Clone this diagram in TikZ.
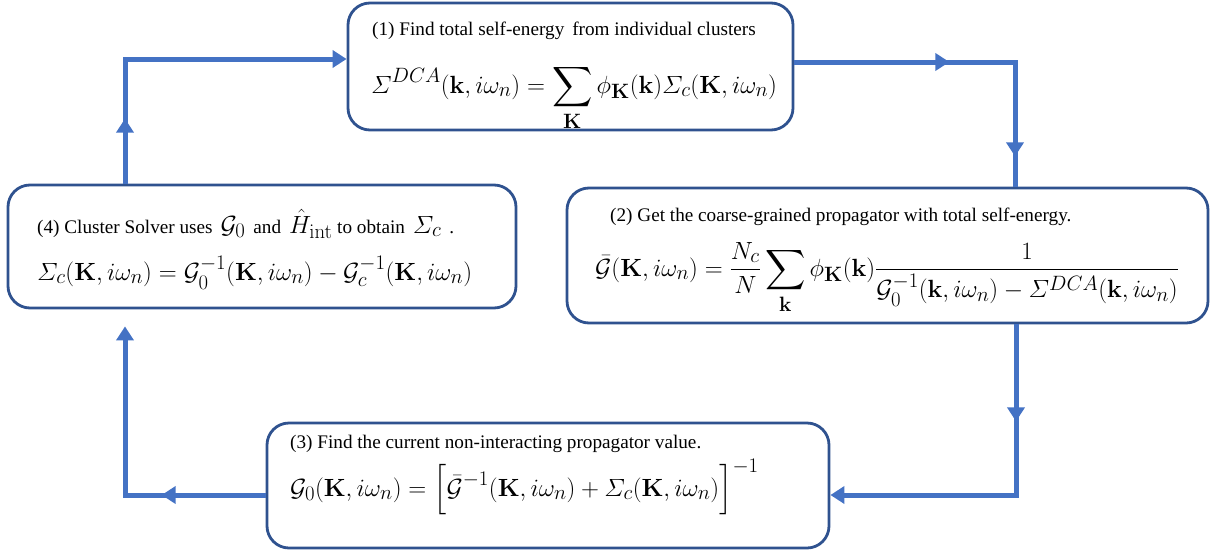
\documentclass[tikz,border=0pt]{standalone}
\usepackage{amsmath,amssymb}
\usepackage[no-math]{fontspec}
\setmainfont{Liberation Serif}
\usetikzlibrary{arrows.meta,decorations.markings}
\definecolor{flowblue}{HTML}{4472C4}
\definecolor{boxblue}{HTML}{2F528F}
\newcommand{\eqsize}{\fontsize{28}{32}\selectfont}
\tikzset{
  stepbox/.style={draw=boxblue, line width=2.8pt, rounded corners=22pt, inner sep=0pt},
  titletext/.style={anchor=base west, inner sep=0pt, font=\fontsize{19.2}{22}\selectfont},
  eqtext/.style={anchor=base west, inner sep=0pt, font=\eqsize},
  flowline/.style={draw=flowblue, line width=5pt},
  endarrow/.style={-{Triangle[width=17pt,length=14pt]}},
  midarr/.style={postaction={decorate}, decoration={markings,
     mark=at position #1 with {\arrow[flowblue]{Triangle[width=17pt,length=14pt]}}}},
  midarrtwo/.style 2 args={postaction={decorate}, decoration={markings,
     mark=at position #1 with {\arrow[flowblue]{Triangle[width=17pt,length=14pt]}},
     mark=at position #2 with {\arrow[flowblue]{Triangle[width=17pt,length=14pt]}}}}
}
\begin{document}
\begin{tikzpicture}[x=1pt,y=-1pt]
\useasboundingbox (0,0) rectangle (1212,552);
% boxes
\node[stepbox, minimum width=445pt, minimum height=127pt] (b1) at (570.5,66.5) {};
\node[stepbox, minimum width=641pt, minimum height=135pt] (b2) at (887.5,255.5) {};
\node[stepbox, minimum width=562pt, minimum height=125pt] (b3) at (548,485.5) {};
\node[stepbox, minimum width=508pt, minimum height=123pt] (b4) at (262,246.5) {};
% texts
\node[titletext] (t1) at (372,35) {(1) Find total self-energy\, from individual clusters};
\node[eqtext] (e1) at (371,93) {$\displaystyle \varSigma^{DCA}(\mathbf{k},i\omega_n)=\sum_{\mathbf{K}}\phi_{\mathbf{K}}(\mathbf{k})\varSigma_c(\mathbf{K},i\omega_n)$};
\node[titletext] (t2) at (610,221) {(2) Get the coarse-grained propagator with total self-energy.};
\node[eqtext] (e2) at (595,276) {$\displaystyle \bar{\mathcal{G}}(\mathbf{K},i\omega_n)=\frac{N_c}{N}\sum_{\mathbf{k}}\phi_{\mathbf{K}}(\mathbf{k})\frac{1}{\mathcal{G}_0^{-1}(\mathbf{k},i\omega_n)-\varSigma^{DCA}(\mathbf{k},i\omega_n)}$};
\node[titletext] (t3) at (290,448) {(3) Find the current non-interacting propagator value.};
\node[eqtext] (e3) at (290,496) {$\displaystyle \mathcal{G}_0(\mathbf{K},i\omega_n)=\Big[\bar{\mathcal{G}}^{-1}(\mathbf{K},i\omega_n)+\varSigma_c(\mathbf{K},i\omega_n)\Big]^{-1}$};
\node[titletext] (t4) at (37,233) {(4) Cluster Solver uses\, {\eqsize$\mathcal{G}_0$}\, and\, {\eqsize$\hat{H}_{\mathrm{int}}$} to obtain\, {\eqsize$\varSigma_c$}\, .};
\node[eqtext] (e4) at (37,280) {$\displaystyle \varSigma_c(\mathbf{K},i\omega_n)=\mathcal{G}_0^{-1}(\mathbf{K},i\omega_n)-\mathcal{G}_c^{-1}(\mathbf{K},i\omega_n)$};
% connectors
\coordinate (c1) at (125,59);
\coordinate (c2) at (1015,62);
\coordinate (c3) at (1016,495);
\coordinate (c4) at (125,495);
\draw[flowline, endarrow, midarr=65pt] (b4.north -| c1) -- (c1) -- (c1 -| b1.west);
\draw[flowline, midarrtwo={155pt}{315pt}] (b1.east |- c2) -- (c2) -- (c2 |- b2.north);
\draw[flowline, endarrow, midarr=97pt] (b2.south -| c3) -- (c3) -- (c3 -| b3.east);
\draw[flowline, endarrow, midarr=104pt, shorten >=17pt] (b3.west |- c4) -- (c4) -- (c4 |- b4.south);
\end{tikzpicture}
\end{document}
